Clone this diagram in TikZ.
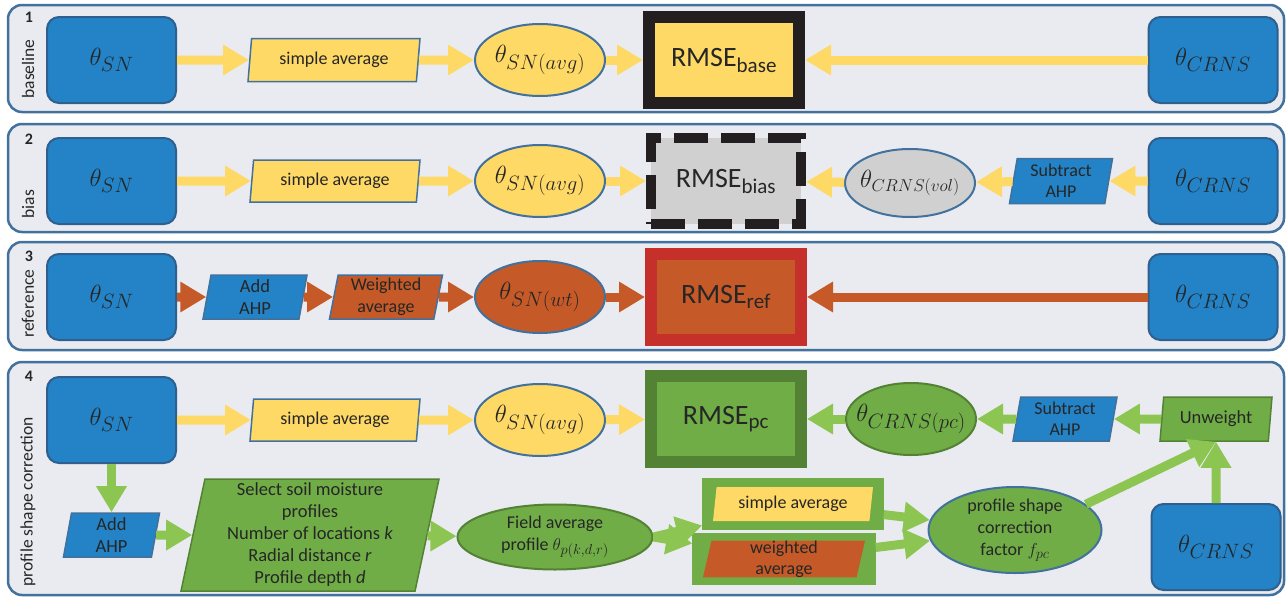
\documentclass[tikz,border=0pt]{standalone}
\usepackage{fontspec}
\setmainfont{Carlito}
\usetikzlibrary{arrows.meta,shapes.geometric}
\renewcommand*\defaultscriptratio{.75}
\definecolor{Panel}{HTML}{E9EBF0}
\definecolor{Frame}{HTML}{41719C}
\definecolor{Sky}{HTML}{2383C6}
\definecolor{SkyLine}{HTML}{2F5F8F}
\definecolor{Sun}{HTML}{FFD966}
\definecolor{Rust}{HTML}{C55A28}
\definecolor{Brick}{HTML}{C5302A}
\definecolor{Leaf}{HTML}{70AD47}
\definecolor{Moss}{HTML}{548235}
\definecolor{Lime}{HTML}{8DC553}
\definecolor{Ash}{HTML}{D0D0D0}
\definecolor{Coal}{HTML}{231F20}
\definecolor{Txt}{HTML}{262626}

\tikzset{
  panel/.style={draw=Frame,fill=Panel,line width=2.5pt,rounded corners=14pt},
  sensor/.style={draw=SkyLine,fill=Sky,line width=2pt,rounded corners=12pt,
    minimum width=129pt,minimum height=86pt,font=\fontsize{30}{36}\selectfont},
  io/.style={trapezium,trapezium left angle=77,trapezium right angle=103,
    trapezium stretches body,draw=Frame,line width=1.5pt,inner sep=0pt,
    align=center,font=\fontsize{18}{21}\selectfont},
  est/.style={ellipse,draw=Frame,line width=2pt,minimum width=130pt,
    minimum height=72pt,inner sep=0pt,font=\fontsize{29}{32}\selectfont},
  rmse/.style={rectangle,line width=12pt,minimum width=150pt,minimum height=86pt,
    font=\fontsize{28}{32}\selectfont},
  flow/.style={line width=9pt,-{Triangle[length=26pt,width=29pt]}},
  lbl/.style={rotate=90,anchor=west,font=\fontsize{17.5}{20}\selectfont},
  num/.style={font=\fontsize{16}{18}\selectfont\bfseries},
}

\begin{document}
\begin{tikzpicture}[x=1pt,y=-1pt,every node/.append style={text=Txt}]
  \useasboundingbox (0,0) rectangle (1287,597);
  % panels
  \draw[panel] (8,5) rectangle (1284,112);
  \draw[panel] (8,124) rectangle (1284,232);
  \draw[panel] (8,242) rectangle (1284,350);
  \draw[panel] (8,362) rectangle (1284,595);
  \node[num] (num1) at (29,17) {1};
  \node[num] (num2) at (29,139) {2};
  \node[num] (num3) at (29,256) {3};
  \node[num] (num4) at (29,376) {4};
  \node[lbl] (lab1) at (28,102) {baseline};
  \node[lbl] (lab2) at (28,222) {bias};
  \node[lbl] (lab3) at (28,341) {reference};
  \node[lbl] (lab4) at (28,590) {profile shape correction};

  % 1 baseline
  \node[sensor] (sn1) at (111.5,60) {$\theta_{SN}$};
  \node[io,fill=Sun,minimum width=172pt,minimum height=43pt] (avg1) at (334,60) {simple average};
  \node[est,fill=Sun] (snavg1) at (540,60) {$\theta_{SN(avg)}$};
  \node[rmse,draw=Coal,fill=Sun] (rmse1) at (724,60) {RMSE\textsubscript{base}};
  \node[sensor] (crns1) at (1213,60) {$\theta_{CRNS}$};
  \draw[flow,Sun] (sn1) -- (avg1);
  \draw[flow,Sun] (avg1) -- (snavg1);
  \draw[flow,Sun] (snavg1) -- (rmse1);
  \draw[flow,Sun] (crns1) -- (rmse1);

  % 2 bias
  \node[sensor] (sn2) at (111.5,181) {$\theta_{SN}$};
  \node[io,fill=Sun,minimum width=170pt,minimum height=42pt] (avg2) at (335,181) {simple average};
  \node[est,fill=Sun] (snavg2) at (540,181) {$\theta_{SN(avg)}$};
  \node[rmse,draw=Coal,fill=Ash,line width=10pt,dash pattern=on 34pt off 13pt] (rmse2) at (726,181) {RMSE\textsubscript{bias}};
  \node[est,fill=Ash,minimum height=68pt,inner xsep=-6pt,font=\fontsize{24}{28}\selectfont] (vol2) at (910,183) {$\theta_{CRNS(vol)}$};
  \node[io,fill=Sky,minimum width=103pt,minimum height=45pt,font=\fontsize{18}{21}\selectfont] (sub2) at (1061,181) {Subtract\\AHP};
  \node[sensor] (crns2) at (1213,181) {$\theta_{CRNS}$};
  \draw[flow,Sun] (sn2) -- (avg2);
  \draw[flow,Sun] (avg2) -- (snavg2);
  \draw[flow,Sun] (snavg2) -- (rmse2);
  \draw[flow,Sun] (crns2) -- (sub2);
  \draw[flow,Sun] (sub2) -- (vol2);
  \draw[flow,Sun] (vol2) -- (rmse2);

  % 3 reference
  \node[sensor] (sn3) at (111.5,297) {$\theta_{SN}$};
  \node[io,fill=Sky,minimum width=104pt,minimum height=44pt,font=\fontsize{18.5}{22}\selectfont] (ahp3) at (255,297) {Add\\AHP};
  \node[io,fill=Rust,minimum width=113pt,minimum height=44pt,font=\fontsize{18}{22}\selectfont] (wavg3) at (386,297) {Weighted\\average};
  \node[est,fill=Rust] (snwt3) at (540,297) {$\theta_{SN(wt)}$};
  \node[rmse,draw=Brick,fill=Rust] (rmse3) at (726,297) {RMSE\textsubscript{ref}};
  \node[sensor] (crns3) at (1213,297) {$\theta_{CRNS}$};
  \draw[flow,Rust] (sn3) -- (ahp3);
  \draw[flow,Rust] (ahp3) -- (wavg3);
  \draw[flow,Rust] (wavg3) -- (snwt3);
  \draw[flow,Rust] (snwt3) -- (rmse3);
  \draw[flow,Rust] (crns3) -- (rmse3);

  % 4 profile shape correction
  \node[sensor] (sn4) at (111.5,420) {$\theta_{SN}$};
  \node[io,fill=Sun,minimum width=170pt,minimum height=42pt] (avg4) at (335,420) {simple average};
  \node[est,fill=Sun] (snavg4) at (540,420) {$\theta_{SN(avg)}$};
  \node[rmse,draw=Moss,fill=Leaf] (rmse4) at (726,419) {RMSE\textsubscript{pc}};
  \node[est,draw=Moss,fill=Leaf,inner xsep=-12pt,font=\fontsize{29}{32}\selectfont] (pc4) at (911,419) {$\theta_{CRNS(pc)}$};
  \node[io,fill=Sky,minimum width=104pt,minimum height=44pt] (sub4) at (1065,419) {Subtract\\AHP};
  \node[io,draw=Moss,fill=Leaf,minimum width=112pt,minimum height=44pt,font=\fontsize{18.5}{21}\selectfont] (unw4) at (1216,419) {Unweight};
  \node[io,fill=Sky,minimum width=96pt,minimum height=44pt,font=\fontsize{18.5}{22}\selectfont] (ahp4) at (111.5,535) {Add\\AHP};
  \node[io,draw=Moss,fill=Leaf,minimum width=258pt,minimum height=112pt,font=\fontsize{18.5}{22}\selectfont] (sel4) at (310,535)
    {Select soil moisture\\profiles\\Number of locations \textit{k}\\Radial distance \textit{r}\\Profile depth \textit{d}};
  \node[est,draw=Moss,fill=Leaf,minimum width=195pt,minimum height=65pt,inner sep=-3pt,align=center,font=\fontsize{18}{22}\selectfont] (field4) at (555,537)
    {Field average\\profile $\theta_{p(k,d,r)}$};
  \node[io,draw=Leaf,fill=Leaf,minimum width=180pt,minimum height=50pt] (simp4) at (793,504) {};
  \node[io,draw=none,fill=Sun,minimum width=160pt,minimum height=34pt] (simpin4) at (793,504) {simple average};
  \node[io,draw=Leaf,fill=Leaf,minimum width=182pt,minimum height=51pt] (wavg4) at (784,559) {};
  \node[io,draw=none,fill=Rust,minimum width=162pt,minimum height=36pt] (wavgin4) at (784,559) {weighted\\average};
  \node[est,fill=Leaf,minimum width=173pt,minimum height=86pt,inner sep=-7pt,align=center,font=\fontsize{18}{22}\selectfont] (fpc4) at (1015,530)
    {profile shape\\correction\\factor $f_{pc}$};
  \node[sensor] (crns4) at (1216,547) {$\theta_{CRNS}$};
  \draw[flow,Sun] (sn4) -- (avg4);
  \draw[flow,Sun] (avg4) -- (snavg4);
  \draw[flow,Sun] (snavg4) -- (rmse4);
  \draw[flow,Lime] (unw4) -- (sub4);
  \draw[flow,Lime] (sub4) -- (pc4);
  \draw[flow,Lime] (pc4) -- (rmse4);
  \draw[flow,Lime] (sn4) -- (ahp4);
  \draw[flow,Lime] (ahp4) -- (sel4);
  \draw[flow,Lime] (sel4) -- (field4);
  \draw[flow,Lime] (field4.east) -- (simp4);
  \draw[flow,Lime] (field4.east) -- (wavg4);
  \draw[flow,Lime] (simp4) -- (fpc4);
  \draw[flow,Lime] (wavg4) -- (fpc4);
  \draw[flow,Lime] (fpc4.20) -- (unw4.south);
  \draw[flow,Lime] (crns4) -- (unw4.south);
\end{tikzpicture}
\end{document}
